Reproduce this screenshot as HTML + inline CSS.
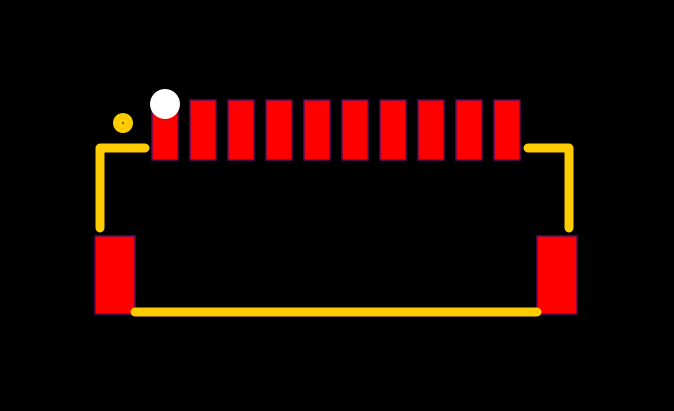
<!DOCTYPE html>
<html><head><style>html,body{margin:0;padding:0;background:#000;}svg{display:block}</style></head>
<body>
<svg width="674" height="411" viewBox="0 0 674 411" xmlns="http://www.w3.org/2000/svg">
<rect width="674" height="411" fill="#000"/>
<g fill="#ff0000" stroke="#5a0a5a" stroke-width="1.5">
<rect x="152" y="100" width="26" height="60"/>
<rect x="190" y="100" width="26" height="60"/>
<rect x="228" y="100" width="26" height="60"/>
<rect x="266" y="100" width="26" height="60"/>
<rect x="304" y="100" width="26" height="60"/>
<rect x="342" y="100" width="26" height="60"/>
<rect x="380" y="100" width="26" height="60"/>
<rect x="418" y="100" width="26" height="60"/>
<rect x="456" y="100" width="26" height="60"/>
<rect x="494" y="100" width="26" height="60"/>
<rect x="95" y="236" width="40" height="78"/>
<rect x="537" y="236" width="40" height="78"/>
</g>
<g fill="none" stroke="#ffcc00" stroke-width="9" stroke-linecap="round" stroke-linejoin="round">
<polyline points="145,148 100,148 100,228"/>
<polyline points="528,148 569,148 569,228"/>
<line x1="135" y1="312" x2="537" y2="312"/>
</g>
<circle cx="123" cy="123" r="10" fill="#ffcc00"/>
<circle cx="123" cy="123" r="1" fill="#664400"/>
<circle cx="165" cy="104" r="15" fill="#fff"/>
</svg>
</body></html>
